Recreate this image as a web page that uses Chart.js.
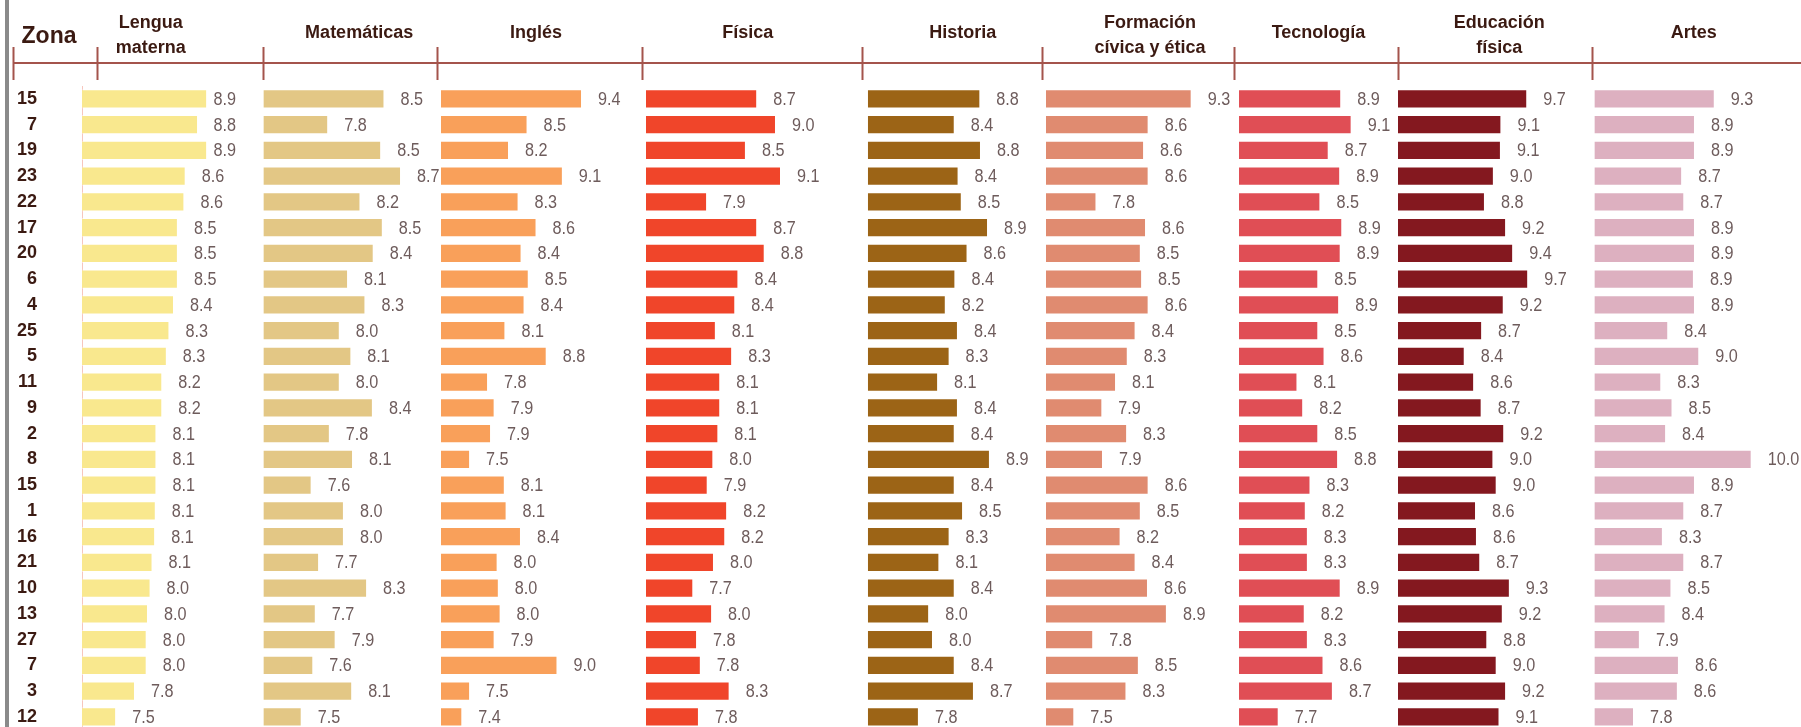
<!DOCTYPE html>
<html>
<head>
<meta charset="utf-8">
<script src="https://cdn.jsdelivr.net/npm/chart.js@4.4.1/dist/chart.umd.min.js"></script>
<style>
  html, body { margin: 0; padding: 0; background: #ffffff; overflow: hidden; }
  #wrap { position: relative; width: 1801px; height: 732px; }
</style>
</head>
<body>
<div id="wrap"><canvas id="c"></canvas></div>
<script>
// ---------- DATA ----------
const zones = ["15","7","19","23","22","17","20","6","4","25","5","11","9","2","8","15","1","16","21","10","13","27","7","3","12"];

const subjects = [
  ["Lengua", "materna"],
  ["Matemáticas"],
  ["Inglés"],
  ["Física"],
  ["Historia"],
  ["Formación", "cívica y ética"],
  ["Tecnología"],
  ["Educación", "física"],
  ["Artes"]
];

const lengua      = [8.91,8.77,8.91,8.58,8.56,8.46,8.46,8.46,8.40,8.33,8.29,8.22,8.22,8.13,8.13,8.13,8.12,8.11,8.07,8.04,8.00,7.98,7.98,7.80,7.51];
const matematicas = [8.50,7.82,8.46,8.70,8.21,8.48,8.37,8.06,8.27,7.96,8.10,7.96,8.36,7.84,8.12,7.62,8.01,8.01,7.71,8.29,7.67,7.91,7.64,8.11,7.50];
const ingles      = [9.40,8.49,8.18,9.08,8.34,8.64,8.39,8.51,8.44,8.12,8.81,7.83,7.94,7.88,7.53,8.11,8.14,8.38,7.99,8.01,8.04,7.94,8.99,7.53,7.40];
const fisica      = [8.72,9.02,8.54,9.10,7.92,8.72,8.84,8.42,8.37,8.06,8.32,8.13,8.13,8.10,8.02,7.93,8.24,8.21,8.03,7.70,8.00,7.76,7.82,8.28,7.79];
const historia    = [8.76,8.36,8.77,8.42,8.47,8.88,8.56,8.37,8.22,8.41,8.28,8.10,8.41,8.36,8.91,8.36,8.49,8.28,8.12,8.36,7.96,8.02,8.36,8.66,7.80];
const formacion   = [9.30,8.64,8.57,8.64,7.84,8.60,8.52,8.54,8.64,8.44,8.32,8.14,7.93,8.31,7.94,8.64,8.52,8.21,8.44,8.63,8.92,7.79,8.49,8.30,7.50];
const tecnologia  = [8.90,9.10,8.66,8.88,8.50,8.92,8.89,8.46,8.86,8.46,8.58,8.06,8.17,8.46,8.84,8.31,8.22,8.26,8.26,8.89,8.20,8.26,8.56,8.74,7.70];
const educacion   = [9.69,9.14,9.13,8.98,8.79,9.24,9.39,9.71,9.19,8.73,8.36,8.56,8.72,9.20,8.97,9.04,8.60,8.62,8.69,9.32,9.17,8.84,9.04,9.24,9.10];
const artes       = [9.31,8.94,8.94,8.70,8.74,8.94,8.94,8.92,8.94,8.44,9.02,8.31,8.52,8.40,10.00,8.94,8.74,8.34,8.74,8.50,8.39,7.91,8.64,8.62,7.80];

const series = [lengua, matematicas, ingles, fisica, historia, formacion, tecnologia, educacion, artes];

// ---------- STYLE / LAYOUT ----------
const colors = ["#f9e88e","#e3c785","#f9a05a","#f0452a","#9c6416","#e08b70","#e04e55","#84181f","#ddb0c0"];
const panelWeights = [181.3, 177.7, 205, 221.7, 178.3, 193, 159, 196.3, 206.7];
const axisMin = [6.985, 7.036, 7.044, 6.945, 7.000, 7.066, 6.938, 6.940, 7.058];
const axisMax = [9.774, 9.183, 10.469, 10.484, 9.786, 10.026, 9.990, 11.117, 10.922];
const titleShift = [-22, 7, -7.5, -9, 6, 7.5, 0, 3, -4];
const tickOffsets = [15, 0, -4, -4, -6, -4, -5, 0, -2];
const labelMaxRight = [154, null, null, null, null, null, null, null, null];

const SANS = "'Liberation Sans', Arial, sans-serif";
const DARK = "#3b1a12";
const LINE = "#a4544c";
const VALUE = "#6e5c5c";

const headerPlugin = {
  id: 'header',
  beforeDraw(chart) {
    const ctx = chart.ctx;
    ctx.save();
    ctx.fillStyle = '#8a8a8a';
    ctx.fillRect(5, 0, 4, chart.height);
    ctx.restore();
  },
  afterDraw(chart) {
    const ctx = chart.ctx;
    ctx.save();
    ctx.fillStyle = DARK;
    ctx.font = "bold 23px " + SANS;
    ctx.textAlign = 'center';
    ctx.textBaseline = 'middle';
    ctx.fillText("Zona", 49, 37);
    ctx.strokeStyle = LINE;
    ctx.lineWidth = 2;
    ctx.beginPath();
    ctx.moveTo(13, 63);
    ctx.lineTo(chart.width, 63);
    ctx.stroke();
    const tickX = [13];
    series.forEach((s, i) => {
      const sc = chart.scales['x' + i];
      tickX.push(sc.left + tickOffsets[i]);
    });
    ctx.beginPath();
    tickX.forEach(x => { ctx.moveTo(Math.round(x) + 0.5, 47); ctx.lineTo(Math.round(x) + 0.5, 80); });
    ctx.stroke();
    ctx.font = "bold 18px " + SANS;
    ctx.fillStyle = DARK;
    subjects.forEach((lines, i) => {
      const sc = chart.scales['x' + i];
      const cx = (sc.left + sc.right) / 2 + titleShift[i];
      if (lines.length === 1) {
        ctx.fillText(lines[0], cx, 33);
      } else {
        ctx.fillText(lines[0], cx, 23.5);
        ctx.fillText(lines[1], cx, 48);
      }
    });
    ctx.restore();
  }
};

const LABEL_SQUEEZE = 0.9;
const valueLabelPlugin = {
  id: 'valueLabels',
  afterDatasetsDraw(chart) {
    const ctx = chart.ctx;
    ctx.save();
    ctx.font = "18px " + SANS;
    ctx.fillStyle = VALUE;
    ctx.textAlign = 'left';
    ctx.textBaseline = 'middle';
    chart.data.datasets.forEach((ds, i) => {
      const meta = chart.getDatasetMeta(i);
      const sc = chart.scales['x' + i];
      meta.data.forEach((bar, j) => {
        const txt = ds.data[j].toFixed(1);
        let x = bar.x + 16;
        if (labelMaxRight[i] !== null) {
          const w = ctx.measureText(txt).width * LABEL_SQUEEZE;
          x = Math.min(x, sc.left + labelMaxRight[i] - w);
        }
        ctx.save();
        ctx.translate(x, bar.y + 1);
        ctx.scale(LABEL_SQUEEZE, 1);
        ctx.fillText(txt, 0, 0);
        ctx.restore();
      });
    });
    ctx.restore();
  }
};

const xScales = {};
series.forEach((s, i) => {
  xScales['x' + i] = {
    type: 'linear',
    position: 'top',
    stack: 'panels',
    stackWeight: panelWeights[i],
    weight: series.length - i,
    min: axisMin[i],
    max: axisMax[i],
    display: false
  };
});

const chart = new Chart(document.getElementById('c'), {
  type: 'bar',
  data: {
    labels: zones,
    datasets: series.map((d, i) => ({
      label: subjects[i].join(' '),
      data: d,
      xAxisID: 'x' + i,
      yAxisID: 'y',
      backgroundColor: colors[i],
      borderColor: 'rgba(255,255,255,0.45)',
      borderWidth: 1,
      base: axisMin[i],
      grouped: false,
      barPercentage: 0.757,
      categoryPercentage: 1
    }))
  },
  options: {
    indexAxis: 'y',
    responsive: true,
    maintainAspectRatio: false,
    animation: false,
    devicePixelRatio: 1,
    layout: { padding: { top: 86, bottom: 2.25, left: 0, right: 0 } },
    plugins: { legend: { display: false }, tooltip: { enabled: false } },
    scales: Object.assign({
      y: {
        type: 'category',
        position: 'left',
        offset: true,
        grid: { display: false, drawTicks: false },
        border: { display: true, color: '#f7c6bd', width: 1 },
        ticks: {
          color: DARK,
          font: { family: SANS, size: 18, weight: 'bold' },
          padding: 45,
          autoSkip: false
        },
        afterFit(scale) {
          scale.width = 82;
          scale.paddingTop = 0;
          scale.paddingBottom = 0;
        }
      }
    }, xScales)
  },
  plugins: [headerPlugin, valueLabelPlugin]
});
</script>
</body>
</html>
